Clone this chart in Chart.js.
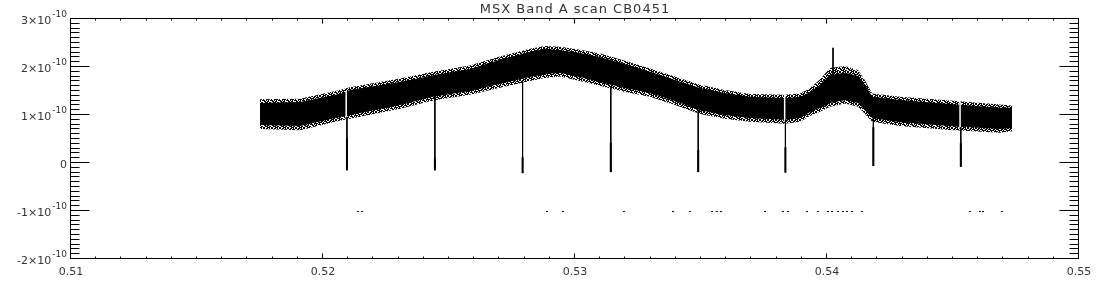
<!DOCTYPE html>
<html>
<head>
<meta charset="utf-8">
<script src="https://cdn.jsdelivr.net/npm/chart.js@4/dist/chart.umd.min.js"></script>
<style>
  html, body { margin: 0; padding: 0; background: #fff; }
  canvas { display: block; }
</style>
</head>
<body>
<canvas id="scan" width="1100" height="300"></canvas>
<script>
// MSX Band A scan CB0451 - band envelope (units of 1e-10)
const titleText = 'MSX Band A scan CB0451';
const xTicks = [0.51, 0.52, 0.53, 0.54, 0.55];
const xTickLabels = ['0.51', '0.52', '0.53', '0.54', '0.55'];
const yTicks = [-2e-10, -1e-10, 0, 1e-10, 2e-10, 3e-10];
const yTickLabels = ['-2×10', '-1×10', '0', '1×10', '2×10', '3×10'];
const yTickExps = ['-10', '-10', '', '-10', '-10', '-10'];

const bandX = [0.51750, 0.51909, 0.52067, 0.52107, 0.52306, 0.52437, 0.52583, 0.52702,
  0.52821, 0.52881, 0.52940, 0.53020, 0.53099, 0.53198, 0.53298, 0.53397, 0.53496,
  0.53595, 0.53694, 0.53833, 0.53893, 0.53933, 0.53972, 0.54012, 0.54071, 0.54123,
  0.54151, 0.54179, 0.54290, 0.54488, 0.54687, 0.54734];
const coreTop = [1.25, 1.27, 1.44, 1.52, 1.69, 1.83, 1.96, 2.15, 2.31, 2.38, 2.35, 2.29,
  2.21, 2.06, 1.90, 1.73, 1.56, 1.46, 1.38, 1.35, 1.38, 1.48, 1.63, 1.83, 1.88, 1.81,
  1.63, 1.38, 1.31, 1.23, 1.15, 1.15];
const coreBottom = [0.79, 0.77, 0.96, 1.00, 1.21, 1.38, 1.50, 1.65, 1.79, 1.85, 1.88, 1.79,
  1.69, 1.56, 1.46, 1.29, 1.10, 1.00, 0.94, 0.90, 0.94, 1.06, 1.15, 1.25, 1.31, 1.25,
  1.10, 0.94, 0.85, 0.77, 0.71, 0.73];
const outerTop = [1.33, 1.34, 1.52, 1.58, 1.76, 1.90, 2.03, 2.22, 2.38, 2.44, 2.42, 2.36,
  2.28, 2.13, 1.97, 1.80, 1.63, 1.52, 1.44, 1.42, 1.45, 1.56, 1.74, 1.98, 2.02, 1.94,
  1.72, 1.45, 1.38, 1.30, 1.22, 1.20];
const outerBottom = [0.71, 0.68, 0.88, 0.92, 1.13, 1.30, 1.42, 1.57, 1.71, 1.77, 1.80, 1.71,
  1.61, 1.48, 1.38, 1.21, 1.02, 0.92, 0.86, 0.82, 0.86, 0.98, 1.07, 1.17, 1.24, 1.17,
  1.02, 0.86, 0.77, 0.69, 0.63, 0.66];

// drop-outs below the band
const dipX = [0.52095, 0.52444, 0.52792, 0.53142, 0.53489, 0.53835, 0.54184, 0.54531];
const dipTop = [0.96, 1.38, 1.69, 1.58, 1.10, 0.90, 0.94, 0.75];
const dipBottom = [-0.15, -0.15, -0.21, -0.19, -0.19, -0.20, -0.06, -0.08];
const dipHeavy = [0.52, 0.10, 0.12, 0.42, 0.27, 0.33, 0.75, 0.42];

// white gaps through the band at some drop-outs
const gapX = [0.52092, 0.53832, 0.54528];
const gapTop = [1.50, 1.42, 1.28];
const gapBottom = [0.92, 0.86, 0.72];

// spike on the bump
const spikeX = [0.54024];
const spikeTop = [2.40];
const spikeBottom = [1.85];

// stray points near -1e-10
const dotX = [0.52139, 0.52155, 0.52889, 0.52952, 0.53194, 0.53389, 0.53456, 0.53544,
  0.53563, 0.53579, 0.53754, 0.53825, 0.53845, 0.53921, 0.53964, 0.54004, 0.54020,
  0.54044, 0.54063, 0.54079, 0.54099, 0.54139, 0.54567, 0.54607, 0.54619, 0.54694];
const dotY = -1.01;

const E = 1e-10;
const pts = (xs, ys) => xs.map((x, i) => ({ x: x, y: ys[i] * E }));
const segs = (xs, a, b) => {
  const out = [];
  xs.forEach((x, i) => {
    out.push({ x: x, y: a[i] * E }, { x: x, y: b[i] * E }, { x: x, y: null });
  });
  return out;
};

// fixed dither so the ragged band edges look speckled
function speckle() {
  const rows = ['10110101', '01101110', '11010011', '00111101',
                '10101011', '11011000', '01110110', '10011101'];
  const c = document.createElement('canvas');
  c.width = 8; c.height = 8;
  const g = c.getContext('2d');
  g.fillStyle = '#000';
  rows.forEach((r, y) => {
    for (let x = 0; x < 8; x++) if (r[x] === '1') g.fillRect(x, y, 1, 1);
  });
  return g.createPattern(c, 'repeat');
}

const idlAxes = {
  id: 'idlAxes',
  afterDraw(chart) {
    const ctx = chart.ctx;
    const xs = chart.scales.x, ys = chart.scales.y;
    const { left, right, top, bottom } = chart.chartArea;
    const L = Math.round(left) - 0.5, R = Math.round(right) - 0.5;
    const T = Math.round(top) - 0.5, B = Math.round(bottom) - 0.5;
    ctx.save();
    ctx.strokeStyle = '#000';
    ctx.lineWidth = 1;
    ctx.strokeRect(L, T, R - L, B - T);
    ctx.beginPath();
    for (let i = 0; i <= 40; i++) {
      const px = Math.round(xs.getPixelForValue(0.51 + i * 0.001)) - 0.5;
      const len = i % 10 === 0 ? 5 : 2;
      ctx.moveTo(px, B); ctx.lineTo(px, B - len);
      ctx.moveTo(px, T); ctx.lineTo(px, T + len);
    }
    for (let i = 0; i <= 50; i++) {
      const py = Math.round(ys.getPixelForValue(-2e-10 + i * 1e-11)) - 0.5;
      const len = i % 10 === 0 ? 19 : 9;
      ctx.moveTo(L, py); ctx.lineTo(L + len, py);
      ctx.moveTo(R, py); ctx.lineTo(R - len, py);
    }
    ctx.stroke();

    ctx.fillStyle = '#333';
    ctx.textBaseline = 'middle';
    ctx.font = '11px "DejaVu Sans"';
    ctx.textAlign = 'center';
    xTicks.forEach((v, i) => {
      ctx.fillText(xTickLabels[i], xs.getPixelForValue(v), 272);
    });

    ctx.textAlign = 'left';
    yTicks.forEach((v, i) => {
      const py = ys.getPixelForValue(v) + 2;
      ctx.font = '11px "DejaVu Sans"';
      const w1 = ctx.measureText(yTickLabels[i]).width;
      ctx.font = '9px "DejaVu Sans"';
      const w2 = yTickExps[i] ? ctx.measureText(yTickExps[i]).width + 1 : 0;
      const x0 = 67 - w1 - w2;
      ctx.font = '11px "DejaVu Sans"';
      ctx.fillText(yTickLabels[i], x0, py);
      if (yTickExps[i]) {
        ctx.font = '9px "DejaVu Sans"';
        ctx.fillText(yTickExps[i], x0 + w1 + 1, py - 6);
      }
    });

    ctx.font = '13px "DejaVu Sans"';
    ctx.letterSpacing = '1px';
    ctx.textAlign = 'center';
    ctx.fillText(titleText, (left + right) / 2, 10);
    ctx.restore();
  }
};

new Chart(document.getElementById('scan').getContext('2d'), {
  type: 'line',
  data: {
    datasets: [
      { type: 'scatter', data: dotX.map(x => ({ x: x, y: dotY * E })), showLine: false,
        pointStyle: 'line', pointRadius: 1, borderColor: '#000', borderWidth: 1 },
      { data: segs(spikeX, spikeTop, spikeBottom), borderColor: '#000', borderWidth: 1, pointRadius: 0 },
      { data: segs(dipX, dipHeavy, dipBottom), borderColor: '#000', borderWidth: 2, pointRadius: 0 },
      { data: segs(dipX, dipTop, dipBottom), borderColor: '#000', borderWidth: 1, pointRadius: 0 },
      { data: segs(gapX, gapTop, gapBottom), borderColor: '#fff', borderWidth: 1.5, pointRadius: 0 },
      { data: pts(bandX, coreTop), borderWidth: 0, pointRadius: 0, fill: '+1', backgroundColor: '#000' },
      { data: pts(bandX, coreBottom), borderWidth: 0, pointRadius: 0, fill: false },
      { data: pts(bandX, outerTop), borderWidth: 0, pointRadius: 0, fill: '+1', backgroundColor: speckle() },
      { data: pts(bandX, outerBottom), borderWidth: 0, pointRadius: 0, fill: false }
    ]
  },
  options: {
    responsive: false,
    animation: false,
    devicePixelRatio: 1,
    layout: { padding: { left: 71, right: 21, top: 19, bottom: 41 } },
    plugins: { legend: { display: false }, tooltip: { enabled: false } },
    scales: {
      x: { type: 'linear', min: 0.51, max: 0.55, display: false },
      y: { type: 'linear', min: -2e-10, max: 3e-10, display: false }
    }
  },
  plugins: [idlAxes]
});
</script>
</body>
</html>
